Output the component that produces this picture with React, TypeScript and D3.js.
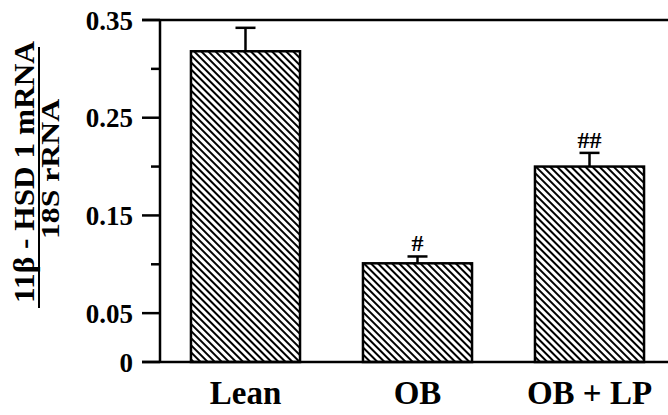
import React, { useRef, useEffect } from "react";
import * as d3 from "d3";

const categories = ["Lean", "OB", "OB + LP"];
const means = [0.318, 0.101, 0.2];
const errors = [0.024, 0.007, 0.014];
const marks = ["", "#", "##"];
const majorTicks = [0, 0.05, 0.15, 0.25, 0.35];
const minorTicks = [0.1, 0.2, 0.3];

export default function App() {
  const ref = useRef<SVGSVGElement | null>(null);

  useEffect(() => {
    const width = 668;
    const height = 415;
    const svg = d3.select(ref.current);
    svg.selectAll("*").remove();

    const font = "'Liberation Serif', 'Times New Roman', serif";
    const x0 = 160;

    const y = d3.scaleLinear().domain([0, 0.35]).range([362, 20]);
    const x = d3
      .scaleBand()
      .domain(categories)
      .range([x0, 675])
      .paddingInner(0.366)
      .paddingOuter(0.18);

    // hatch pattern
    const pattern = svg
      .append("defs")
      .append("pattern")
      .attr("id", "hatch")
      .attr("patternUnits", "userSpaceOnUse")
      .attr("width", 5)
      .attr("height", 5)
      .attr("patternTransform", "rotate(-45)");
    pattern.append("rect").attr("width", 5).attr("height", 5).attr("fill", "#fff");
    pattern.append("rect").attr("x", 0).attr("width", 2).attr("height", 5).attr("fill", "#000");

    const bars = svg.append("g");
    categories.forEach((c, i) => {
      const bx = x(c)!;
      const bw = x.bandwidth();
      const cx = bx + bw / 2;
      bars
        .append("rect")
        .attr("x", bx)
        .attr("y", y(means[i]))
        .attr("width", bw)
        .attr("height", y(0) - y(means[i]))
        .attr("fill", "url(#hatch)")
        .attr("stroke", "#000")
        .attr("stroke-width", 2.5);
      const top = y(means[i] + errors[i]);
      bars
        .append("line")
        .attr("x1", cx)
        .attr("x2", cx)
        .attr("y1", y(means[i]))
        .attr("y2", top)
        .attr("stroke", "#000")
        .attr("stroke-width", 2.5);
      bars
        .append("line")
        .attr("x1", cx - 10)
        .attr("x2", cx + 10)
        .attr("y1", top)
        .attr("y2", top)
        .attr("stroke", "#000")
        .attr("stroke-width", 2.5);
      if (marks[i]) {
        bars
          .append("text")
          .attr("x", cx)
          .attr("y", top - 5)
          .attr("text-anchor", "middle")
          .attr("font-family", font)
          .attr("font-weight", "bold")
          .attr("font-size", 24)
          .text(marks[i]);
      }
      svg
        .append("text")
        .attr("x", cx)
        .attr("y", 404)
        .attr("text-anchor", "middle")
        .attr("font-family", font)
        .attr("font-weight", "bold")
        .attr("font-size", 33)
        .text(c);
    });

    // axes frame
    const axis = svg.append("g").attr("stroke", "#000").attr("stroke-width", 2.5);
    axis.append("line").attr("x1", x0).attr("x2", x0).attr("y1", y(0.35)).attr("y2", y(0));
    axis.append("line").attr("x1", 142).attr("x2", width).attr("y1", y(0)).attr("y2", y(0));
    axis.append("line").attr("x1", 142).attr("x2", width).attr("y1", y(0.35)).attr("y2", y(0.35));
    majorTicks.forEach((t) => {
      axis.append("line").attr("x1", 142).attr("x2", x0).attr("y1", y(t)).attr("y2", y(t));
      svg
        .append("text")
        .attr("x", 133)
        .attr("y", y(t))
        .attr("dy", "0.36em")
        .attr("text-anchor", "end")
        .attr("font-family", font)
        .attr("font-weight", "bold")
        .attr("font-size", 27)
        .text(t === 0 ? "0" : d3.format(".2f")(t));
    });
    minorTicks.forEach((t) => {
      axis.append("line").attr("x1", 151).attr("x2", x0).attr("y1", y(t)).attr("y2", y(t));
    });

    // y title as fraction
    const title = svg.append("g").attr("font-family", font).attr("font-weight", "bold");
    title
      .append("text")
      .attr("transform", "translate(34,172) rotate(-90) scale(1.08,1)")
      .attr("text-anchor", "middle")
      .attr("font-size", 29)
      .text("11β - HSD 1 mRNA");
    title
      .append("line")
      .attr("x1", 39)
      .attr("x2", 39)
      .attr("y1", 47)
      .attr("y2", 308)
      .attr("stroke", "#000")
      .attr("stroke-width", 2);
    title
      .append("text")
      .attr("transform", "translate(59,169) rotate(-90) scale(1.22,1)")
      .attr("text-anchor", "middle")
      .attr("font-size", 26)
      .text("18S rRNA");

    svg.attr("width", width).attr("height", height);
  }, []);

  return (
    <div style={{ position: "fixed", left: 0, top: 0, background: "#fff" }}>
      <svg ref={ref} width={668} height={415} style={{ display: "block" }} />
    </div>
  );
}
